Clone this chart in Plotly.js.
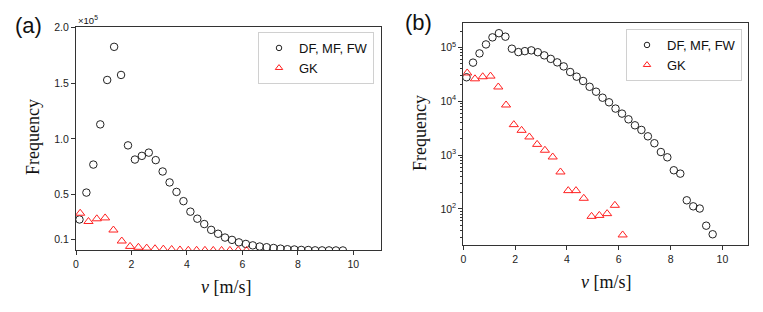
<!DOCTYPE html>
<html><head><meta charset="utf-8">
<script src="https://cdn.plot.ly/plotly-3.0.1.min.js"></script>
<style>html,body{margin:0;padding:0;background:#fff}#chart{width:763px;height:312px}</style>
</head><body><div id="chart"></div>
<script>
// ---- data ----
const speedsOutfield = [0.125,0.375,0.625,0.875,1.125,1.375,1.625,1.875,2.125,2.375,2.625,2.875,3.125,3.375,3.625,3.875,4.125,4.375,4.625,4.875,5.125,5.375,5.625,5.875,6.125,6.375,6.625,6.875,7.125,7.375,7.625,7.875,8.125,8.375,8.625,8.875,9.125,9.375,9.625];
const freqOutfield = [27800,51900,77000,113000,152800,182500,157300,94200,81500,84800,87700,81000,70800,61000,52500,44200,34800,28500,23700,18500,15000,11600,9540,7290,5880,4610,3570,2930,2230,1660,1140,910,523,453,145,112,102,49,34];
const speedsGK = [0.15,0.45,0.75,1.05,1.35,1.65,1.95,2.25,2.55,2.85,3.15,3.45,3.75,4.05,4.35,4.65,4.95,5.25,5.55,5.85,6.15];
const freqGK = [33400,26000,28400,29200,18350,8500,3670,2880,2170,1580,1230,923,486,219,219,158,73,76,82,117,33];
const seriesNames = ['DF, MF, FW', 'GK'];
const xTickVals = [0,2,4,6,8,10];
const linTickVals = [10000,50000,100000,150000,200000];
const linTickText = ['0.1','0.5','1.0','1.5','2.0'];
const logTickVals = [100,1000,10000,100000];
const logTickText = ['10<sup>2</sup>','10<sup>3</sup>','10<sup>4</sup>','10<sup>5</sup>'];
const logMinorVals = [30,40,50,60,70,80,90,200,300,400,500,600,700,800,900,2000,3000,4000,5000,6000,7000,8000,9000,20000,30000,40000,50000,60000,70000,80000,90000,200000];

// ---- styles ----
const W = 763, H = 312;
const px = v => v / W, py = v => 1 - v / H;
const sansFont = 'Liberation Sans, Arial, sans-serif';
const serifFont = 'Liberation Serif, Times New Roman, serif';
const circleStyle = {symbol:'circle-open', size:7.5, color:'#222', line:{width:1, color:'#222'}};
const triStyle = {symbol:'triangle-up-open', size:8, color:'#ff2020', line:{width:1, color:'#ff2020'}};
const legCircle = {symbol:'circle-open', size:5.5, color:'#222', line:{width:1, color:'#222'}};
const legTri = {symbol:'triangle-up-open', size:6.5, color:'#ff2020', line:{width:1, color:'#ff2020'}};

const traces = [
  {x:speedsOutfield, y:freqOutfield, xaxis:'x', yaxis:'y', mode:'markers', marker:circleStyle, name:seriesNames[0], showlegend:false},
  {x:speedsGK, y:freqGK, xaxis:'x', yaxis:'y', mode:'markers', marker:triStyle, name:seriesNames[1], showlegend:false},
  {x:speedsOutfield, y:freqOutfield, xaxis:'x2', yaxis:'y2', mode:'markers', marker:circleStyle, name:seriesNames[0], showlegend:false},
  {x:speedsGK, y:freqGK, xaxis:'x2', yaxis:'y2', mode:'markers', marker:triStyle, name:seriesNames[1], showlegend:false},
  // legend entries with smaller symbols (no drawn points)
  {x:[null], y:[null], xaxis:'x', yaxis:'y', mode:'markers', marker:legCircle, name:seriesNames[0], legend:'legend', showlegend:true},
  {x:[null], y:[null], xaxis:'x', yaxis:'y', mode:'markers', marker:legTri, name:seriesNames[1], legend:'legend', showlegend:true},
  {x:[null], y:[null], xaxis:'x2', yaxis:'y2', mode:'markers', marker:legCircle, name:seriesNames[0], legend:'legend2', showlegend:true},
  {x:[null], y:[null], xaxis:'x2', yaxis:'y2', mode:'markers', marker:legTri, name:seriesNames[1], legend:'legend2', showlegend:true}
];

const axisBase = {showline:true, linecolor:'#333', linewidth:1, mirror:true, ticks:'outside', ticklen:4, tickcolor:'#333',
  showgrid:false, zeroline:false, tickfont:{family:sansFont, size:10.5, color:'#222'}};

const legendBase = {bgcolor:'rgba(255,255,255,0.9)', bordercolor:'#d0d0d0', borderwidth:1,
  font:{family:sansFont, size:13, color:'#111'}, xanchor:'right', yanchor:'top', tracegroupgap:0, itemwidth:30};

const ann = (text, x, y, size, family, extra) => Object.assign({text:text, xref:'paper', yref:'paper', x:px(x), y:py(y),
  xanchor:'center', yanchor:'middle', showarrow:false, font:{family:family, size:size, color:'#111'}}, extra || {});

const layout = {
  width:W, height:H, margin:{l:0,r:0,t:0,b:0}, paper_bgcolor:'#fff', plot_bgcolor:'#fff', showlegend:true,
  xaxis: Object.assign({}, axisBase, {domain:[px(76), px(381)], range:[0,11], anchor:'y', tickmode:'array', tickvals:xTickVals}),
  yaxis: Object.assign({}, axisBase, {domain:[py(250), py(27.3)], range:[450,200000], anchor:'x', tickmode:'array', tickvals:linTickVals, ticktext:linTickText}),
  xaxis2: Object.assign({}, axisBase, {domain:[px(463.3), px(748.3)], range:[0,11], anchor:'y2', tickmode:'array', tickvals:xTickVals}),
  yaxis2: Object.assign({}, axisBase, {domain:[py(245), py(23.3)], type:'log', range:[1.332,5.445], anchor:'x2', tickmode:'array', tickvals:logTickVals, ticktext:logTickText,
    minor:{tickmode:'array', tickvals:logMinorVals, ticks:'outside', ticklen:2, tickcolor:'#333', showgrid:false}}),
  legend: Object.assign({}, legendBase, {x:px(374), y:py(32)}),
  legend2: Object.assign({}, legendBase, {x:px(742), y:py(29)}),
  annotations: [
    ann('(a)', 28, 25, 22, sansFont),
    ann('(b)', 418, 23, 22, sansFont),
    ann('×10<sup>5</sup>', 76, 20, 9.5, sansFont, {xanchor:'left'}),
    ann('Frequency', 33, 137, 18, serifFont, {textangle:-90}),
    ann('Frequency', 420, 133, 18, serifFont, {textangle:-90}),
    ann('<i>v</i> [m/s]', 227, 287, 18, serifFont),
    ann('<i>v</i> [m/s]', 606, 282, 18, serifFont)
  ]
};

Plotly.newPlot('chart', traces, layout, {staticPlot:true, displayModeBar:false});
</script>
</body></html>
